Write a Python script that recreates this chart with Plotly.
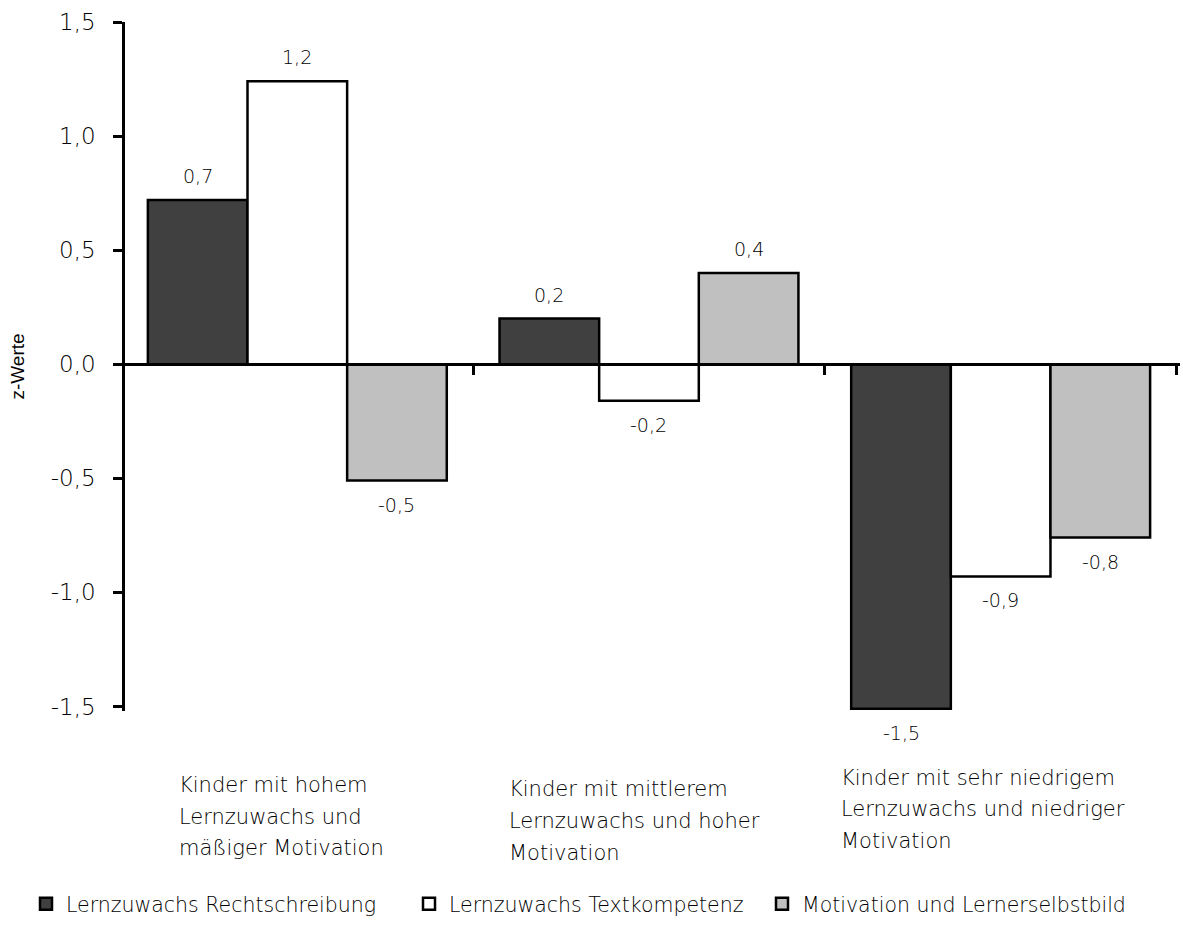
import plotly.graph_objects as go

# Data
groups = [
    ["Kinder mit hohem", "Lernzuwachs und", "mäßiger Motivation"],
    ["Kinder mit mittlerem", "Lernzuwachs und hoher", "Motivation"],
    ["Kinder mit sehr niedrigem", "Lernzuwachs und niedriger", "Motivation"],
]
series_names = [
    "Lernzuwachs Rechtschreibung",
    "Lernzuwachs Textkompetenz",
    "Motivation und Lernerselbstbild",
]
rechtschreibung = [0.72, 0.20, -1.51]
textkompetenz = [1.24, -0.16, -0.93]
motivation = [-0.51, 0.40, -0.76]
y_ticks = [-1.5, -1.0, -0.5, 0.0, 0.5, 1.0, 1.5]

series_values = [rechtschreibung, textkompetenz, motivation]
series_colors = ["#404040", "#ffffff", "#c0c0c0"]

FONT = "DejaVu Sans"
WEIGHT = 300
W, H = 1183, 927
M_L, M_R, M_T, M_B = 125, 3, 22, 212
Y_MIN, Y_MAX = -1.52, 1.5
X_MIN, X_MAX = -0.49, 2.51
BARGAP = 0.15


def de(v):
    return f"{v:.1f}".replace(".", ",")


def tfont(size):
    return dict(family=FONT, size=size, color="black", weight=WEIGHT)


x_pos = list(range(len(groups)))
legend_ids = ["legend", "legend2", "legend3"]

fig = go.Figure()
for name, vals, col, lg in zip(series_names, series_values, series_colors, legend_ids):
    fig.add_trace(go.Bar(
        x=x_pos, y=vals, name=name, legend=lg,
        marker=dict(color=col, line=dict(color="black", width=2.5)),
    ))

# value labels above / below each bar
bar_w = (1 - BARGAP) / len(series_values)
annotations = []
for si, vals in enumerate(series_values):
    off = (si - (len(series_values) - 1) / 2) * bar_w
    for gi, v in enumerate(vals):
        annotations.append(dict(
            x=gi + off, y=v, xref="x", yref="y", text=de(v),
            showarrow=False, yshift=24 if v > 0 else -24,
            font=tfont(19),
        ))

# category captions below the plot, one line per annotation
plot_w = W - M_L - M_R
plot_h = H - M_T - M_B
caption_left = [-120, -142, -162]
caption_rows = [[789, 822, 853], [793, 826, 858], [782, 814, 846]]
for gi, lines in enumerate(groups):
    for li, line in enumerate(lines):
        annotations.append(dict(
            x=gi, xref="x", xanchor="left", xshift=caption_left[gi],
            y=(H - M_B - caption_rows[gi][li]) / plot_h, yref="paper",
            yanchor="middle", text=line, showarrow=False,
            font=tfont(21),
        ))

zero_pos = (0 - Y_MIN) / (Y_MAX - Y_MIN)


def legend_at(px_left):
    return dict(
        orientation="h", x=(px_left - M_L) / plot_w, xanchor="left",
        y=(H - M_B - 909) / plot_h, yanchor="middle",
        font=tfont(20.5), bgcolor="rgba(0,0,0,0)", itemclick=False,
        itemdoubleclick=False,
    )


boundaries = [0.5, 1.5, 2.5]

fig.update_layout(
    width=W, height=H,
    margin=dict(l=M_L, r=M_R, t=M_T, b=M_B),
    paper_bgcolor="white", plot_bgcolor="white",
    barmode="group", bargap=BARGAP, bargroupgap=0,
    font=dict(family=FONT, color="black"),
    annotations=annotations,
    showlegend=True,
    legend=legend_at(26),
    legend2=legend_at(409),
    legend3=legend_at(762),
    xaxis=dict(
        range=[X_MIN, X_MAX], anchor="free", position=zero_pos,
        showline=True, linecolor="black", linewidth=2.5,
        tickvals=boundaries, ticks="outside", ticklen=9,
        tickwidth=2.5, tickcolor="black",
        showticklabels=False, showgrid=False, zeroline=False,
    ),
    xaxis2=dict(
        range=[X_MIN, X_MAX], anchor="free", position=zero_pos, overlaying="x",
        showline=False, tickvals=boundaries, ticks="inside", ticklen=9,
        tickwidth=2.5, tickcolor="black",
        showticklabels=False, showgrid=False, zeroline=False,
    ),
    yaxis=dict(
        range=[Y_MIN, Y_MAX], anchor="x",
        showline=True, linecolor="black", linewidth=2.5,
        tickvals=y_ticks, ticktext=[de(t) for t in y_ticks],
        ticks="outside", ticklen=9, tickwidth=2.5, tickcolor="black",
        ticklabelstandoff=13,
        tickfont=tfont(23),
        showgrid=False, zeroline=False,
        title=dict(text="z-Werte", standoff=22,
                   font=dict(family="Liberation Sans", size=19,
                             color="black", weight=400)),
    ),
    yaxis2=dict(
        range=[Y_MIN, Y_MAX], anchor="x", overlaying="y",
        showline=False, tickvals=y_ticks, ticks="inside", ticklen=9,
        tickwidth=2.5, tickcolor="black",
        showticklabels=False, showgrid=False, zeroline=False,
    ),
)

fig.write_html("out.html")
